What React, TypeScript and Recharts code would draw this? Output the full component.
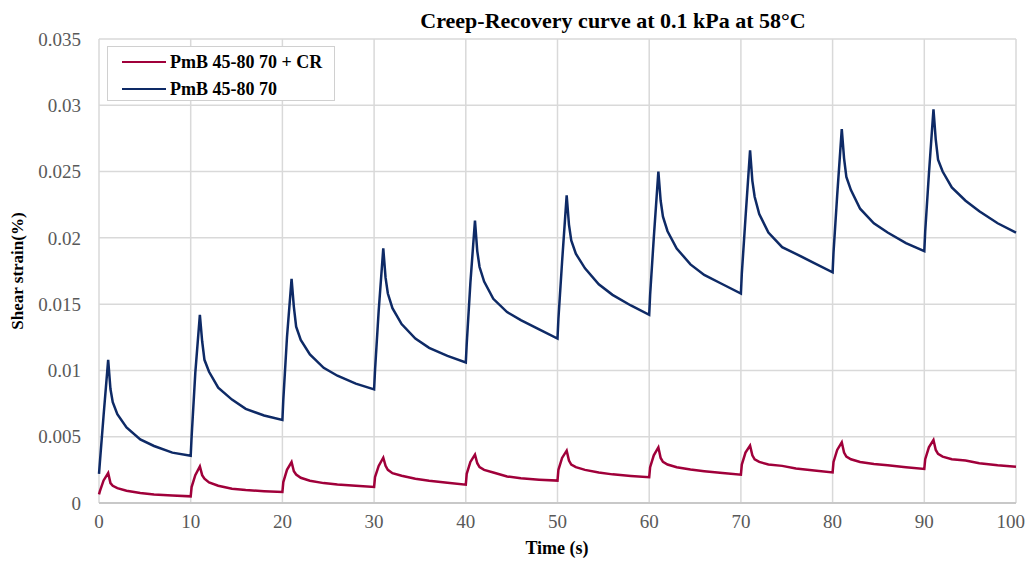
import React from 'react';
import { LineChart, Line, XAxis, YAxis, CartesianGrid } from 'recharts';

// time offsets (s) inside each 10 s creep-recovery cycle
const CYCLE_OFFSETS = [0, 0.1, 0.5, 1, 1.25, 1.5, 2, 3, 4.5, 6, 8];
const CYCLE_STARTS = [0, 10, 20, 30, 40, 50, 60, 70, 80, 90];
const END_TIME = 100;

// PmB 45-80 70 (blue), one row per cycle
const PMB = [
  [0.0022, 0.0031, 0.0066, 0.0108, 0.0086, 0.0076, 0.0067, 0.0057, 0.0048, 0.0043, 0.0038],
  [0.00356, 0.005, 0.0098, 0.0142, 0.0122, 0.0108, 0.0099, 0.0087, 0.0078, 0.0071, 0.0066],
  [0.00626, 0.0078, 0.0125, 0.0169, 0.0148, 0.0133, 0.0123, 0.0112, 0.0102, 0.0096, 0.009],
  [0.00857, 0.01, 0.0145, 0.0192, 0.017, 0.0158, 0.0147, 0.0135, 0.0124, 0.0117, 0.0111],
  [0.0106, 0.012, 0.0166, 0.0213, 0.019, 0.0178, 0.0167, 0.0154, 0.0144, 0.0138, 0.0131],
  [0.0124, 0.0139, 0.0182, 0.0232, 0.021, 0.0198, 0.0188, 0.0177, 0.0165, 0.0157, 0.0149],
  [0.0142, 0.0157, 0.02, 0.025, 0.0228, 0.0216, 0.0205, 0.0192, 0.018, 0.0172, 0.0165],
  [0.0158, 0.0173, 0.0215, 0.0266, 0.0243, 0.0231, 0.0218, 0.0204, 0.0193, 0.0188, 0.0181],
  [0.0174, 0.0189, 0.0232, 0.0282, 0.026, 0.0246, 0.0236, 0.0222, 0.0211, 0.0204, 0.0196],
  [0.019, 0.0205, 0.0248, 0.0297, 0.0274, 0.0259, 0.025, 0.0238, 0.0228, 0.022, 0.0211],
];
const PMB_END = 0.0204;

// PmB 45-80 70 + CR (red)
const PMB_CR = [
  [0.00065, 0.0009, 0.0017, 0.00226, 0.0015, 0.0013, 0.00112, 0.00092, 0.00075, 0.00065, 0.00057],
  [0.0005, 0.0012, 0.0021, 0.00276, 0.0021, 0.00183, 0.00155, 0.0013, 0.00108, 0.00098, 0.00089],
  [0.00083, 0.00158, 0.0025, 0.00309, 0.0024, 0.00215, 0.0019, 0.00168, 0.0015, 0.0014, 0.0013],
  [0.00121, 0.00196, 0.0028, 0.00342, 0.0028, 0.0025, 0.00225, 0.00205, 0.00183, 0.00168, 0.00153],
  [0.00138, 0.0022, 0.0031, 0.00365, 0.003, 0.0027, 0.0025, 0.0023, 0.002, 0.00186, 0.00176],
  [0.00169, 0.0025, 0.0034, 0.00395, 0.0032, 0.0029, 0.0027, 0.0025, 0.0023, 0.00216, 0.00204],
  [0.00194, 0.0027, 0.0036, 0.0042, 0.0034, 0.0031, 0.0029, 0.0027, 0.00252, 0.0024, 0.00226],
  [0.00214, 0.0029, 0.0038, 0.00433, 0.0036, 0.0033, 0.0031, 0.0029, 0.0028, 0.0026, 0.00245],
  [0.00231, 0.0031, 0.004, 0.00458, 0.0038, 0.0035, 0.0033, 0.0031, 0.00295, 0.00284, 0.0027],
  [0.00257, 0.0033, 0.0042, 0.00475, 0.004, 0.0037, 0.0035, 0.0033, 0.0032, 0.003, 0.00285],
];
const PMB_CR_END = 0.00274;

const X_TICKS = [0, 10, 20, 30, 40, 50, 60, 70, 80, 90, 100];
const Y_TICKS = [0, 0.005, 0.01, 0.015, 0.02, 0.025, 0.03, 0.035];

const data: { t: number; cr: number; pmb: number }[] = [];
CYCLE_STARTS.forEach((start, c) => {
  CYCLE_OFFSETS.forEach((off, i) => {
    data.push({ t: start + off, cr: PMB_CR[c][i], pmb: PMB[c][i] });
  });
});
data.push({ t: END_TIME, cr: PMB_CR_END, pmb: PMB_END });

const FONT = "'Times New Roman', 'Liberation Serif', serif";
const RED = '#A0003A';
const BLUE = '#0E2A66';

const SERIES = [
  { key: 'cr', name: 'PmB 45-80 70 + CR', color: RED },
  { key: 'pmb', name: 'PmB 45-80 70', color: BLUE },
];

const App = () => {
  return (
    <div style={{ position: 'relative', width: 1017, height: 554, fontFamily: FONT }}>
      <style>{'.recharts-surface { overflow: visible; }'}</style>
      <div
        style={{
          position: 'absolute',
          left: 402,
          top: 0,
          width: 406,
          textAlign: 'center',
          fontWeight: 'bold',
          fontSize: 22,
          whiteSpace: 'nowrap',
          zIndex: 2,
        }}
      >
        Creep-Recovery curve at 0.1 kPa at 58°C
      </div>
      <div
        style={{
          position: 'absolute',
          left: 10 - 80,
          top: 263 - 10,
          width: 160,
          textAlign: 'center',
          transform: 'rotate(-90deg)',
          fontWeight: 'bold',
          fontSize: 17,
          zIndex: 2,
        }}
      >
        Shear strain(%)
      </div>
      <div
        style={{
          position: 'absolute',
          left: 449,
          top: 530,
          width: 200,
          textAlign: 'center',
          fontWeight: 'bold',
          fontSize: 18,
          zIndex: 2,
        }}
      >
        Time (s)
      </div>
      <div
        style={{
          position: 'absolute',
          left: 99,
          top: 38,
          width: 228,
          height: 55,
          boxSizing: 'border-box',
          border: '1.5px solid #D0D0D0',
          background: '#fff',
          padding: '4px 0 0 14px',
          fontWeight: 'bold',
          fontSize: 18,
          zIndex: 2,
        }}
      >
        {SERIES.map((s) => (
          <div key={s.key} style={{ display: 'flex', alignItems: 'center', height: 22, marginBottom: 5 }}>
            <span style={{ display: 'inline-block', width: 44, height: 2.5, background: s.color, marginRight: 4 }} />
            {s.name}
          </div>
        ))}
      </div>
      <LineChart
        width={1017}
        height={554}
        data={data}
        margin={{ top: 31, right: 9, bottom: 19, left: 0 }}
        style={{ overflow: 'visible' }}
      >
        <CartesianGrid stroke="#D9D9D9" strokeWidth={1.5} />
        <XAxis
          dataKey="t"
          type="number"
          domain={[0, 100]}
          ticks={X_TICKS}
          height={40}
          tickLine={false}
          tickSize={0}
          tickMargin={12}
          axisLine={{ stroke: '#C8C8C8', strokeWidth: 2 }}
          tick={{ fill: '#595959', fontSize: 19, fontFamily: FONT }}
        />
        <YAxis
          type="number"
          domain={[0, 0.035]}
          ticks={Y_TICKS}
          width={91}
          tickLine={false}
          tickSize={0}
          tickMargin={18}
          axisLine={false}
          tickFormatter={(v: number) => String(v)}
          tick={{ fill: '#595959', fontSize: 19, fontFamily: FONT }}
        />
        {SERIES.map((s) => (
          <Line
            key={s.key}
            name={s.name}
            dataKey={s.key}
            type="linear"
            stroke={s.color}
            strokeWidth={2.5}
            dot={false}
            isAnimationActive={false}
          />
        ))}
      </LineChart>
    </div>
  );
};

export default App;
